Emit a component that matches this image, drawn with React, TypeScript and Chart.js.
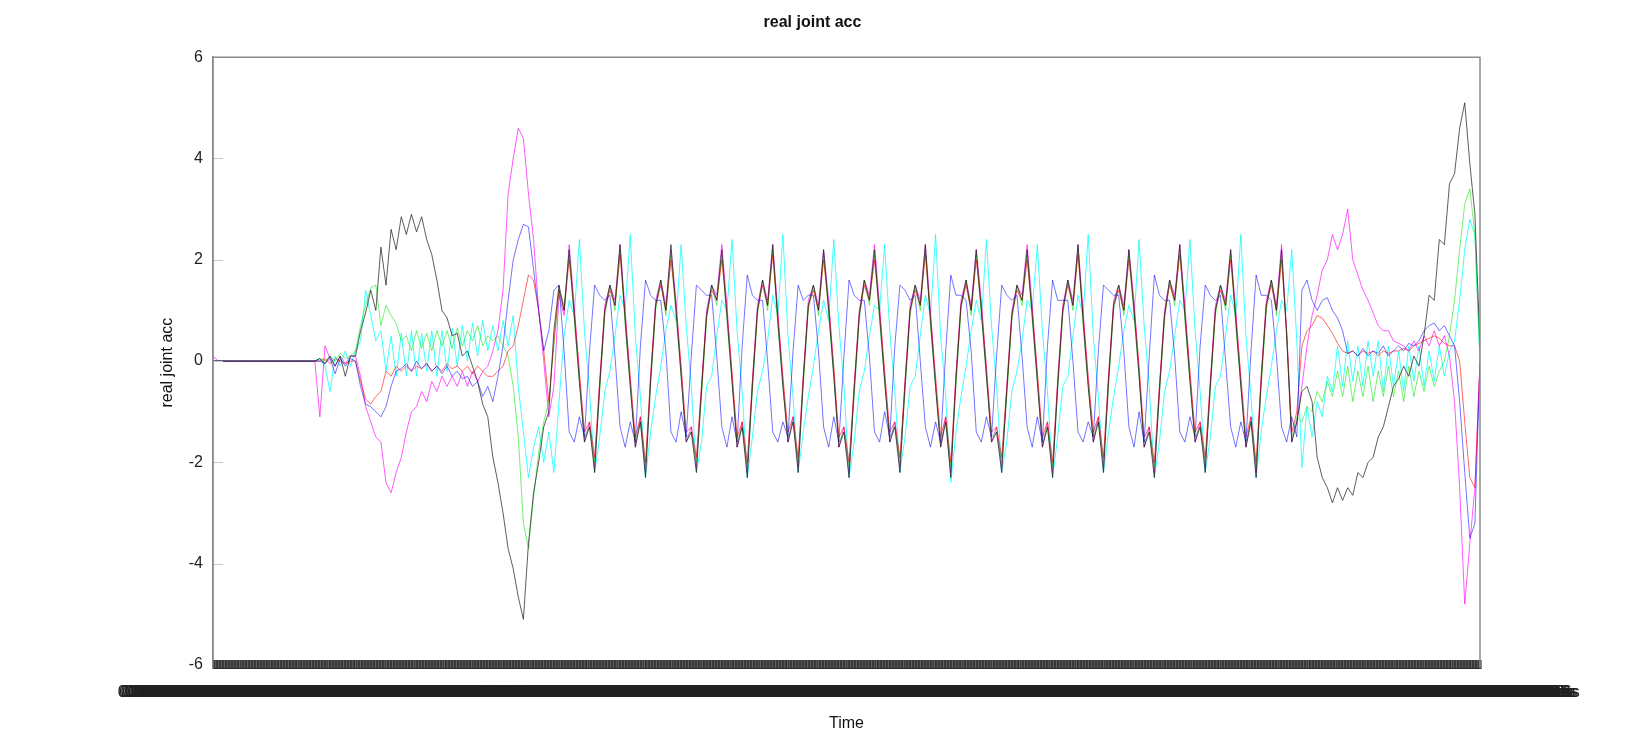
import { useEffect, useRef } from 'react';
import { Chart, registerables } from 'chart.js';

Chart.register(...registerables);

const FONT = '"Liberation Sans", Arial, sans-serif';

// x-axis: sample index -> time label (seconds)
const timeStep = 0.1;
const xTickStep = 0.3;
const labelDecimals = 19;

const chartTitle = 'real joint acc';
const yAxisTitle = 'real joint acc';
const xAxisTitle = 'Time';
const yMin = -6.06;
const yMax = 6;
const yStep = 2;

const joint1 = [
  0, 0, 0, 0, 0, 0, 0, 0, 0, 0, 0, 0, 0, 0, 0, 0, 0, 0, 0, 0,
  0, 0.05, -0.05, 0.1, -0.1, 0.1, -0.3, 0.1,
  0.1, 0.6, 0.95, 1.4, 1.0, 2.25, 1.5, 2.6, 2.2, 2.85, 2.5, 2.9, 2.55, 2.85, 2.4, 2.1, 1.6, 1.0, 0.85, 0.5, 0.55, 0.1,
  0.2, -0.1, -0.4, -0.85, -1.1, -1.9, -2.4, -3.0, -3.7, -4.1, -4.66, -5.1, -3.6, -2.6, -2.0, -1.3, -1.0, 0.6, 1.5, 1.0,
  2.2, 0.9, -0.4, -1.6, -1.3, -2.2, -0.5, 1.0, 1.5, 1.1,
  2.3, 0.8, -0.5, -1.7, -1.2, -2.3, -0.4, 1.1, 1.6, 1.0,
  2.3, 1.0, -0.3, -1.6, -1.4, -2.2, -0.6, 0.9, 1.5, 1.2,
  2.2, 0.9, -0.4, -1.7, -1.3, -2.3, -0.5, 1.0, 1.6, 1.1,
  2.3, 0.8, -0.5, -1.6, -1.2, -2.2, -0.4, 1.1, 1.5, 1.0,
  2.2, 1.0, -0.3, -1.7, -1.4, -2.3, -0.6, 0.9, 1.6, 1.2,
  2.2, 0.9, -0.4, -1.6, -1.3, -2.2, -0.5, 1.0, 1.5, 1.1,
  2.3, 0.8, -0.5, -1.7, -1.2, -2.3, -0.4, 1.1, 1.6, 1.0,
  2.2, 1.0, -0.3, -1.6, -1.4, -2.2, -0.6, 0.9, 1.5, 1.2,
  2.2, 0.9, -0.4, -1.7, -1.3, -2.3, -0.5, 1.0, 1.6, 1.1,
  2.3, 0.8, -0.5, -1.6, -1.2, -2.2, -0.4, 1.1, 1.5, 1.0,
  2.2, 1.0, -0.3, -1.7, -1.4, -2.3, -0.6, 0.9, 1.6, 1.2,
  2.3, 0.9, -0.4, -1.6, -1.3, -2.2, -0.5, 1.0, 1.5, 1.1,
  2.2, 0.8, -0.5, -1.7, -1.2, -2.3, -0.4, 1.1, 1.6, 1.0,
  2.2, 0.5, -1.6, -1.2,
  -0.6, -0.5, -0.8, -1.9, -2.3, -2.5, -2.8, -2.5, -2.75, -2.5, -2.65, -2.2, -2.3, -2.0, -1.9, -1.5, -1.3, -0.9,
  -0.5, -0.35, -0.1, -0.3, 0.1, -0.1, 0.5, 1.3, 1.2, 2.4, 2.3, 3.5, 3.7, 4.6, 5.1, 3.9, 2.9, 0.3,
];

const joint2 = [
  0, 0, 0, 0, 0, 0, 0, 0, 0, 0, 0, 0, 0, 0, 0, 0, 0, 0, 0, 0,
  0, 0, 0.05, -0.05, 0.05, 0, -0.05, 0,
  0.0, -0.4, -0.75, -0.85, -0.7, -0.6, -0.2, -0.3, -0.1, -0.2, -0.1, -0.2, -0.1, -0.15, -0.05, -0.2, -0.1, -0.2, -0.05, -0.15, -0.1, -0.2,
  -0.1, -0.25, -0.1, -0.2, -0.3, -0.3, -0.2, -0.1, 0.2, 0.3, 0.7, 1.2, 1.7, 1.6, 1.0, 0.2, -0.8, 0.4, 1.4, 1.0,
  2.0, 1.0, -0.2, -1.4, -1.2, -1.9, -0.4, 1.0, 1.4, 1.1,
  2.1, 0.9, -0.3, -1.5, -1.1, -2.0, -0.3, 1.1, 1.5, 1.0,
  2.0, 1.1, -0.1, -1.4, -1.3, -1.9, -0.5, 0.9, 1.4, 1.2,
  2.0, 1.0, -0.2, -1.5, -1.2, -2.0, -0.4, 1.0, 1.5, 1.1,
  2.1, 0.9, -0.3, -1.4, -1.1, -1.9, -0.3, 1.1, 1.4, 1.0,
  2.0, 1.1, -0.1, -1.5, -1.3, -2.0, -0.5, 0.9, 1.5, 1.2,
  2.0, 1.0, -0.2, -1.4, -1.2, -1.9, -0.4, 1.0, 1.4, 1.1,
  2.1, 0.9, -0.3, -1.5, -1.1, -2.0, -0.3, 1.1, 1.5, 1.0,
  2.0, 1.1, -0.1, -1.4, -1.3, -1.9, -0.5, 0.9, 1.4, 1.2,
  2.0, 1.0, -0.2, -1.5, -1.2, -2.0, -0.4, 1.0, 1.5, 1.1,
  2.1, 0.9, -0.3, -1.4, -1.1, -1.9, -0.3, 1.1, 1.4, 1.0,
  2.0, 1.1, -0.1, -1.5, -1.3, -2.0, -0.5, 0.9, 1.5, 1.2,
  2.1, 1.0, -0.2, -1.4, -1.2, -1.9, -0.4, 1.0, 1.4, 1.1,
  2.0, 0.9, -0.3, -1.5, -1.1, -2.0, -0.3, 1.1, 1.5, 1.0,
  2.0, 0.6, -1.4, -1.0,
  0.3, 0.6, 0.7, 0.9, 0.85, 0.7, 0.55, 0.35, 0.2, 0.15, 0.2, 0.1, 0.2, 0.15, 0.2, 0.1, 0.2, 0.15,
  0.2, 0.2, 0.25, 0.2, 0.3, 0.35, 0.4, 0.45, 0.5, 0.45, 0.35, 0.3, 0.3, 0.0, -1.2, -2.3, -2.5, 0.0,
];

const joint3 = [
  0, 0, 0, 0, 0, 0, 0, 0, 0, 0, 0, 0, 0, 0, 0, 0, 0, 0, 0, 0,
  0, 0.05, 0, 0.1, 0, 0.15, 0.05, 0.1,
  0.2, 0.7, 1.1, 1.45, 1.5, 0.7, 1.1, 0.9, 0.75, 0.4, 0.5, 0.2, 0.6, 0.25, 0.55, 0.2, 0.6, 0.3, 0.6, 0.25, 0.65, 0.3,
  0.6, 0.4, 0.7, 0.3, 0.5, 0.4, 0.5, 0.3, 0.1, -0.5, -1.5, -3.2, -3.7, -2.7, -1.8, -1.2, -0.8, 0.3, 1.4, 1.1,
  2.1, 0.8, -0.4, -1.5, -1.3, -2.0, -0.6, 0.9, 1.5, 1.0,
  2.2, 0.7, -0.5, -1.6, -1.2, -2.1, -0.5, 1.0, 1.6, 0.9,
  2.1, 0.9, -0.3, -1.5, -1.4, -2.0, -0.7, 0.8, 1.5, 1.1,
  2.1, 0.8, -0.4, -1.6, -1.3, -2.1, -0.6, 0.9, 1.6, 1.0,
  2.2, 0.7, -0.5, -1.5, -1.2, -2.0, -0.5, 1.0, 1.5, 0.9,
  2.1, 0.9, -0.3, -1.6, -1.4, -2.1, -0.7, 0.8, 1.6, 1.1,
  2.1, 0.8, -0.4, -1.5, -1.3, -2.0, -0.6, 0.9, 1.5, 1.0,
  2.2, 0.7, -0.5, -1.6, -1.2, -2.1, -0.5, 1.0, 1.6, 0.9,
  2.1, 0.9, -0.3, -1.5, -1.4, -2.0, -0.7, 0.8, 1.5, 1.1,
  2.1, 0.8, -0.4, -1.6, -1.3, -2.1, -0.6, 0.9, 1.6, 1.0,
  2.2, 0.7, -0.5, -1.5, -1.2, -2.0, -0.5, 1.0, 1.5, 0.9,
  2.1, 0.9, -0.3, -1.6, -1.4, -2.1, -0.7, 0.8, 1.6, 1.1,
  2.2, 0.8, -0.4, -1.5, -1.3, -2.0, -0.6, 0.9, 1.5, 1.0,
  2.1, 0.7, -0.5, -1.6, -1.2, -2.1, -0.5, 1.0, 1.6, 0.9,
  2.1, 0.5, -1.5, -1.1,
  -1.2, -0.9, -1.0, -0.6, -0.8, -0.4, -0.7, -0.2, -0.7, -0.1, -0.8, -0.2, -0.7, -0.1, -0.8, -0.2, -0.7, -0.1,
  -0.7, -0.2, -0.8, -0.1, -0.7, -0.2, -0.6, -0.1, -0.5, -0.2, 0.0, 0.5, 1.2, 2.2, 3.1, 3.4, 2.5, 0.0,
];

const joint4 = [
  0.1, 0, 0, 0, 0, 0, 0, 0, 0, 0, 0, 0, 0, 0, 0, 0, 0, 0, 0, 0,
  0, -1.1, 0.3, 0.05, -0.1, 0.1, -0.05, 0.1,
  0.1, -0.3, -0.9, -1.2, -1.5, -1.6, -2.4, -2.6, -2.2, -1.9, -1.4, -1.0, -0.9, -0.6, -0.8, -0.4, -0.6, -0.3, -0.5, -0.3, -0.5, -0.2,
  -0.5, -0.2, -0.4, -0.2, -0.1, 0.2, 0.6, 1.4, 3.3, 4.0, 4.6, 4.4, 3.3, 2.4, 1.0, 0.0, -1.1, -0.5, 1.3, 0.9,
  2.3, 1.1, -0.3, -1.6, -1.2, -2.1, -0.4, 1.1, 1.5, 1.2,
  2.3, 1.0, -0.4, -1.7, -1.1, -2.2, -0.3, 1.2, 1.6, 1.1,
  2.2, 1.2, -0.2, -1.6, -1.3, -2.1, -0.5, 1.0, 1.5, 1.3,
  2.3, 1.1, -0.3, -1.7, -1.2, -2.2, -0.4, 1.1, 1.6, 1.2,
  2.3, 1.0, -0.4, -1.6, -1.1, -2.1, -0.3, 1.2, 1.5, 1.1,
  2.2, 1.2, -0.2, -1.7, -1.3, -2.2, -0.5, 1.0, 1.6, 1.3,
  2.3, 1.1, -0.3, -1.6, -1.2, -2.1, -0.4, 1.1, 1.5, 1.2,
  2.3, 1.0, -0.4, -1.7, -1.1, -2.2, -0.3, 1.2, 1.6, 1.1,
  2.2, 1.2, -0.2, -1.6, -1.3, -2.1, -0.5, 1.0, 1.5, 1.3,
  2.3, 1.1, -0.3, -1.7, -1.2, -2.2, -0.4, 1.1, 1.6, 1.2,
  2.3, 1.0, -0.4, -1.6, -1.1, -2.1, -0.3, 1.2, 1.5, 1.1,
  2.2, 1.2, -0.2, -1.7, -1.3, -2.2, -0.5, 1.0, 1.6, 1.3,
  2.3, 1.1, -0.3, -1.6, -1.2, -2.1, -0.4, 1.1, 1.5, 1.2,
  2.2, 1.0, -0.4, -1.7, -1.1, -2.2, -0.3, 1.2, 1.6, 1.1,
  2.3, 0.6, -1.6, -1.2,
  -0.5, 0.3, 0.9, 1.3, 1.8, 2.0, 2.5, 2.2, 2.5, 3.0, 2.0, 1.7, 1.4, 1.2, 0.95, 0.7, 0.6, 0.6,
  0.4, 0.35, 0.3, 0.2, 0.4, 0.2, 0.5, 0.3, 0.6, 0.3, 0.5, 0.1, -0.8, -2.5, -4.8, -3.6, -2.5, 0.0,
];

const joint5 = [
  0, 0, 0, 0, 0, 0, 0, 0, 0, 0, 0, 0, 0, 0, 0, 0, 0, 0, 0, 0,
  0, 0, -0.05, 0.05, -0.25, 0.05, -0.1, 0.05,
  0.0, -0.5, -0.85, -0.9, -1.0, -1.1, -0.9, -0.5, -0.2, -0.15, -0.05, -0.2, 0.0, -0.15, -0.05, -0.2, -0.1, -0.25, -0.1, -0.3, -0.2, -0.35,
  -0.3, -0.5, -0.4, -0.7, -0.5, -0.8, -0.3, 0.3, 1.2, 2.0, 2.4, 2.7, 2.65, 1.8, 1.0, 0.2, 0.6, 1.4, 1.5, 0.2,
  -1.4, -1.6, -1.1, -1.5, 0.2, 1.5, 1.3, 1.2, 1.3, 0.1,
  -1.3, -1.7, -1.2, -1.6, 0.3, 1.6, 1.3, 1.2, 1.2, 0.2,
  -1.4, -1.6, -1.0, -1.5, 0.1, 1.5, 1.4, 1.3, 1.3, 0.1,
  -1.3, -1.7, -1.1, -1.6, 0.3, 1.7, 1.3, 1.2, 1.2, 0.0,
  -1.4, -1.6, -1.2, -1.5, 0.2, 1.5, 1.2, 1.3, 1.3, 0.2,
  -1.3, -1.7, -1.1, -1.6, 0.1, 1.6, 1.3, 1.2, 1.2, 0.1,
  -1.4, -1.6, -1.0, -1.5, 0.3, 1.5, 1.4, 1.2, 1.3, 0.0,
  -1.3, -1.7, -1.2, -1.6, 0.2, 1.7, 1.3, 1.3, 1.2, 0.2,
  -1.4, -1.6, -1.1, -1.5, 0.1, 1.5, 1.3, 1.2, 1.3, 0.1,
  -1.3, -1.7, -1.1, -1.6, 0.3, 1.6, 1.2, 1.2, 1.2, 0.0,
  -1.4, -1.6, -1.2, -1.5, 0.2, 1.5, 1.4, 1.3, 1.3, 0.2,
  -1.3, -1.7, -1.0, -1.6, 0.1, 1.7, 1.3, 1.2, 1.2, 0.1,
  -1.4, -1.6, -1.1, -1.5, 0.3, 1.5, 1.3, 1.2, 1.3, 0.0,
  -1.3, -1.7, -1.2, -1.6, 0.2, 1.7, 1.3, 1.3, 1.2, 0.1,
  -1.3, -1.6, -1.1, -1.5,
  1.4, 1.6, 1.2, 1.0, 1.2, 1.25, 1.0, 0.85, 0.6, 0.15, 0.2, 0.1, 0.25, 0.1, 0.2, 0.15, 0.3, 0.1,
  0.2, 0.3, 0.2, 0.35, 0.3, 0.4, 0.6, 0.7, 0.75, 0.6, 0.7, 0.5, 0.3, -0.8, -2.2, -3.5, -3.2, 0.0,
];

const joint6 = [
  0, 0, 0, 0, 0, 0, 0, 0, 0, 0, 0, 0, 0, 0, 0, 0, 0, 0, 0, 0,
  0, 0.05, -0.1, -0.6, 0.1, -0.1, 0.2, -0.1,
  0.2, 0.4, 1.4, 0.9, 0.4, 0.6, -0.2, 0.5, -0.3, 0.55, -0.3, 0.6, -0.3, 0.55, -0.2, 0.6, -0.3, 0.6, -0.2, 0.65, -0.1, 0.7,
  0.0, 0.75, 0.1, 0.8, 0.2, 0.7, 0.2, 0.8, 0.3, 0.9, -0.5, -1.4, -2.3, -1.7, -1.3, -2.0, -1.4, -2.2, -0.8, 0.5,
  1.2, 0.9, 2.4, 0.6, -0.6, -2.2, -1.5, -0.6, -0.2, 0.5,
  1.3, 1.0, 2.5, 0.5, -0.7, -2.3, -1.4, -0.7, -0.1, 0.6,
  1.1, 0.8, 2.3, 0.7, -0.5, -2.2, -1.6, -0.5, -0.3, 0.5,
  1.2, 1.0, 2.4, 0.6, -0.6, -2.3, -1.5, -0.6, -0.2, 0.4,
  1.3, 0.9, 2.5, 0.5, -0.7, -2.2, -1.4, -0.7, -0.1, 0.6,
  1.2, 0.8, 2.4, 0.7, -0.5, -2.3, -1.6, -0.6, -0.2, 0.5,
  1.1, 1.0, 2.3, 0.6, -0.6, -2.2, -1.5, -0.5, -0.3, 0.5,
  1.3, 0.9, 2.5, 0.5, -0.7, -2.4, -1.4, -0.7, -0.1, 0.6,
  1.2, 0.8, 2.4, 0.7, -0.5, -2.2, -1.6, -0.6, -0.2, 0.4,
  1.2, 1.0, 2.3, 0.6, -0.6, -2.3, -1.5, -0.5, -0.3, 0.5,
  1.3, 0.9, 2.5, 0.5, -0.7, -2.2, -1.4, -0.7, -0.1, 0.6,
  1.1, 0.8, 2.4, 0.7, -0.5, -2.3, -1.6, -0.6, -0.2, 0.5,
  1.2, 1.0, 2.4, 0.6, -0.6, -2.2, -1.5, -0.5, -0.3, 0.5,
  1.3, 0.9, 2.5, 0.5, -0.7, -2.3, -1.4, -0.7, -0.1, 0.6,
  1.2, 1.0, 2.2, 0.4,
  -2.1, -0.9, -1.5, -0.8, -1.1, -0.3, -0.6, 0.3, -0.5, 0.4, -0.4, 0.3, -0.5, 0.4, -0.3, 0.4, -0.6, 0.3,
  -0.5, 0.2, -0.6, 0.3, -0.4, 0.3, -0.5, 0.2, -0.4, 0.3, -0.3, 0.2, 0.4, 1.2, 2.2, 2.8, 2.5, 0.0,
];

// drawn top-most first
const seriesList = [
  { name: 'joint 1', values: joint1, color: 'rgba(30, 30, 30, 0.72)' },
  { name: 'joint 5', values: joint5, color: 'rgba(0, 0, 255, 0.55)' },
  { name: 'joint 2', values: joint2, color: 'rgba(255, 0, 0, 0.6)' },
  { name: 'joint 3', values: joint3, color: 'rgba(0, 230, 0, 0.55)' },
  { name: 'joint 4', values: joint4, color: 'rgba(255, 0, 255, 0.65)' },
  { name: 'joint 6', values: joint6, color: 'rgba(0, 255, 255, 0.75)' },
];

const framePlugin = {
  id: 'frame',
  afterDatasetsDraw(chart: any) {
    const { ctx, chartArea, scales } = chart;
    const { left, top, right, bottom } = chartArea;
    ctx.save();
    ctx.strokeStyle = '#c8c8c8';
    ctx.lineWidth = 1;
    scales.y.ticks.forEach((t: any) => {
      if (t.value <= yMin + 0.5) return;
      const py = Math.round(scales.y.getPixelForValue(t.value)) + 0.5;
      ctx.beginPath();
      ctx.moveTo(left, py);
      ctx.lineTo(left + 10, py);
      ctx.stroke();
    });
    ctx.strokeStyle = '#8c8c8c';
    ctx.lineWidth = 1.5;
    ctx.beginPath();
    ctx.moveTo(left, bottom - 8);
    ctx.lineTo(left, top);
    ctx.lineTo(right, top);
    ctx.lineTo(right, bottom);
    ctx.stroke();
    ctx.restore();
  },
};

export default function App() {
  const canvasRef = useRef<HTMLCanvasElement | null>(null);

  useEffect(() => {
    if (!canvasRef.current) return;
    const count = joint1.length;
    const chart = new Chart(canvasRef.current, {
      type: 'line',
      data: {
        datasets: seriesList.map((s) => ({
          label: s.name,
          data: s.values.map((y, i) => ({ x: i, y })),
          borderColor: s.color,
          backgroundColor: s.color,
          borderWidth: 1,
          pointRadius: 0,
          tension: 0,
          fill: false,
        })),
      },
      options: {
        animation: false,
        responsive: true,
        maintainAspectRatio: false,
        layout: { padding: { left: 145, right: 155, top: 0, bottom: 0 } },
        plugins: {
          legend: { display: false },
          tooltip: { enabled: false },
          title: {
            display: true,
            text: chartTitle,
            color: '#111',
            font: { family: FONT, size: 16, weight: 'bold' },
            padding: { top: 13, bottom: 25 },
          },
        },
        scales: {
          x: {
            type: 'linear',
            min: 0,
            max: count - 1,
            afterFit: (s: any) => {
              s.height = 81;
            },
            border: { display: true, color: '#2a2a2a', width: 1 },
            grid: {
              drawOnChartArea: false,
              drawTicks: true,
              tickLength: -8,
              tickWidth: 2.2,
              tickColor: '#3a3a3a',
            },
            ticks: {
              stepSize: xTickStep,
              autoSkip: false,
              includeBounds: false,
              maxRotation: 0,
              minRotation: 0,
              padding: 23,
              color: '#222',
              font: { family: FONT, size: 16 },
              callback: (v: any) => (Number(v) * timeStep).toFixed(labelDecimals) + 's',
            },
            title: {
              display: true,
              text: xAxisTitle,
              color: '#111',
              font: { family: FONT, size: 16 },
              padding: { top: 0, bottom: 16 },
            },
          },
          y: {
            min: yMin,
            max: yMax,
            afterFit: (s: any) => {
              s.width = 68;
            },
            border: { display: true, color: '#8c8c8c', width: 1.5 },
            grid: { drawOnChartArea: false, drawTicks: false },
            ticks: {
              stepSize: yStep,
              includeBounds: false,
              padding: 10,
              color: '#222',
              font: { family: FONT, size: 16 },
            },
            title: {
              display: true,
              text: yAxisTitle,
              color: '#111',
              font: { family: FONT, size: 16 },
              padding: { top: 13, bottom: 0 },
            },
          },
        },
      },
      plugins: [framePlugin],
    });
    return () => chart.destroy();
  }, []);

  return (
    <div style={{ position: 'fixed', left: 0, top: 0, width: '1635px', height: '749px', background: '#fff' }}>
      <canvas ref={canvasRef} />
    </div>
  );
}
